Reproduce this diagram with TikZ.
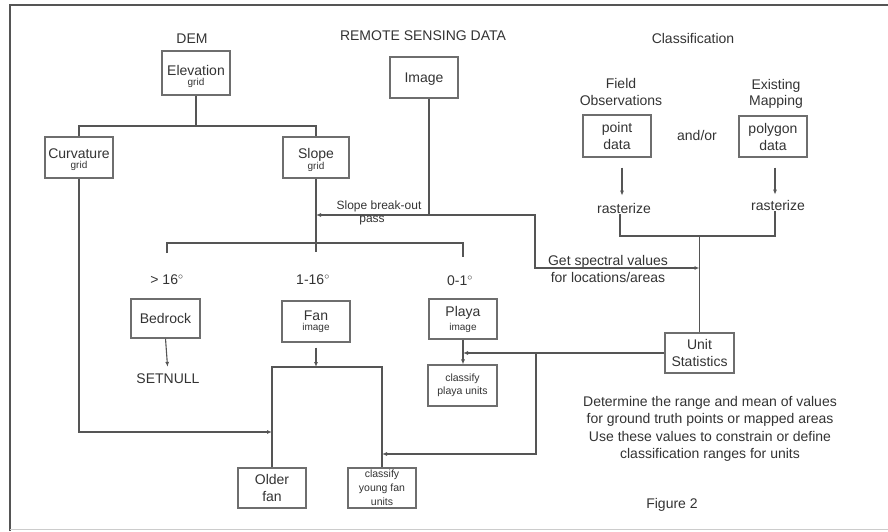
\documentclass[tikz,border=0pt]{standalone}
\usepackage{fontspec}
\setmainfont{Liberation Sans}
\usetikzlibrary{arrows.meta,calc}
\definecolor{ink}{HTML}{333333}
\definecolor{linec}{HTML}{555555}
\definecolor{boxc}{HTML}{6E6E6E}
\definecolor{framec}{HTML}{555555}
\newcommand{\myfs}[1]{\fontsize{#1}{#1}\selectfont}
\newcommand{\topstrut}[1]{\rule{0pt}{#1}}
\begin{document}
\begin{tikzpicture}[x=1pt,y=-1pt,
  every node/.style={text=ink, inner sep=1pt},
  lbl/.style={font=\myfs{14}},
  lbltwo/.style={font=\fontsize{14}{17}\selectfont, align=center},
  box/.style={draw=boxc, line width=1.1pt, minimum width=68pt, minimum height=41pt,
    align=center, font=\fontsize{14}{17}\selectfont, inner sep=0pt},
  conn/.style={draw=linec, line width=1.1pt},
  arr/.style={conn, -{Latex[length=5pt,width=4pt]}},
]
\useasboundingbox (0,0) rectangle (888,531);
\draw[framec, line width=2pt] (10,531) -- (10,5) -- (888,5);
\draw[black!20, line width=1pt] (10,529.5) -- (888,529.5);

% headings
\node[lbl] (dem) at (192,39) {DEM};
\node[lbl] (rsd) at (423,36) {REMOTE SENSING DATA};
\node[lbl] (cls) at (693,38) {Classification};

% DEM branch
\node[box, minimum height=44pt] (elev) at (196,73) {\topstrut{17pt}Elevation\\[-7pt]{\myfs{10}grid}};
\node[box] (curv) at (79,157.5) {\topstrut{15pt}Curvature\\[-7pt]{\myfs{10}grid}};
\node[box, minimum width=66pt] (slope) at (316,157.5) {\topstrut{15pt}Slope\\[-6pt]{\myfs{10}grid}};
\coordinate (b1) at (196,126);
\draw[conn] (elev.south) -- (b1);
\draw[conn] (curv.north) |- (b1) -| (slope.north);

% remote sensing
\node[box] (img) at (424,77.5) {\topstrut{13pt}Image};
\coordinate (ij) at (429,215);
\coordinate (gj1) at (535,215);
\coordinate (gj2) at (535,268);
\draw[conn] (img.south -| ij) -- (ij);
\draw[arr] (ij) -- (ij -| slope.south);
\node[font=\myfs{12}] (sbo) at (379,206) {Slope break-out};
\node[font=\myfs{12}] (pass) at (372,221) {pass};

% classification inputs
\node[lbltwo] (fobs) at (621,92) {Field\\Observations};
\node[box, minimum height=42pt] (pt) at (617,136) {point\\data};
\node[lbl] (andor) at (697,135) {and/or};
\node[lbltwo, font=\fontsize{14}{16}\selectfont] (exmap) at (776,94) {Existing\\Mapping};
\node[box] (poly) at (773,136.5) {polygon\\data};
\node[lbl] (ras1) at (624,208) {rasterize};
\node[lbl] (ras2) at (778,205) {rasterize};
\draw[arr, shorten <=10pt, shorten >=6pt] (pt.south -| 622,0) -- (ras1.north -| 622,0);
\draw[arr, shorten <=10pt, shorten >=4pt] (poly.south -| 775,0) -- (ras2.north -| 775,0);
\coordinate (rl) at (620,236);
\coordinate (rr) at (775,236);
\coordinate (rj) at (699.5,236);
\draw[conn] (ras1.south -| rl) -- (rl) -- (rr) -- (ras2.south -| rr);
\node[box, minimum width=69pt, minimum height=40pt] (us) at (699.5,353) {Unit\\Statistics};
\draw[conn] (rj) -- (us.north);
\node[lbltwo] (gsv) at (608,268.5) {Get spectral values\\for locations/areas};
\draw[arr] (ij) -- (gj1) -- (gj2) -- (gj2 -| us.north);

% slope classes
\coordinate (sj) at (316,252);
\coordinate (b2l) at (167,243);
\coordinate (b2r) at (463,243);
\coordinate (t1) at (167,253);
\coordinate (t3) at (463,257);
\draw[conn] (slope.south) -- (sj);
\draw[conn] (t1) -- (b2l) -- (b2r) -- (t3);
\node[lbl] (gt) at (167,280) {> 16$^{\circ}$};
\node[lbl] (mid) at (313,280) {1-16$^{\circ}$};
\node[lbl] (low) at (460,281) {0-1$^{\circ}$};

\node[box, minimum width=69pt, minimum height=39pt] (bed) at (165.5,318.5) {Bedrock};
\node[lbl] (setnull) at (168,379) {SETNULL};
\draw[arr, shorten >=6pt] (bed.south) -- (setnull.north);

\node[box] (fan) at (316,321.5) {Fan\\[-7pt]{\myfs{10}image}};
\node[box, minimum height=40pt] (playa) at (463,319) {Playa\\[-3pt]{\myfs{10}image}};
\node[box, minimum width=69pt, font=\fontsize{10.5}{13}\selectfont] (clp) at (462.5,385.5) {classify\\playa units};
\draw[arr] (playa.south) -- (playa.south |- clp.north);

% fan split
\node[box, minimum height=40pt] (older) at (272,488) {Older\\fan};
\node[box, minimum height=40pt, font=\fontsize{10.5}{14}\selectfont] (young) at (382,488) {classify\\young fan\\units};
\coordinate (fl) at (272,367);
\coordinate (fr) at (382,367);
\coordinate (cj) at (272,432);
\draw[arr, shorten <=5pt] (fan.south) -- (fan.south |- fl);
\draw[conn] (older.north) -- (fl) -- (fr) -- (young.north);
\draw[arr] (curv.south) |- (cj);

% unit statistics feedback
\coordinate (bj) at (536,353);
\coordinate (bj2) at (536,454);
\draw[arr] (us.west) -- (us.west -| playa.south);
\draw[arr] (bj) -- (bj2) -- (bj2 -| young.north);

% notes
\node[lbl, align=center, font=\fontsize{14}{17.3}\selectfont] (det) at (710,429)
  {Determine the range and mean of values\\for ground truth points or mapped areas\\Use these values to constrain or define\\classification ranges for units};
\node[lbl] (fig) at (672,505) {Figure 2};
\end{tikzpicture}
\end{document}
